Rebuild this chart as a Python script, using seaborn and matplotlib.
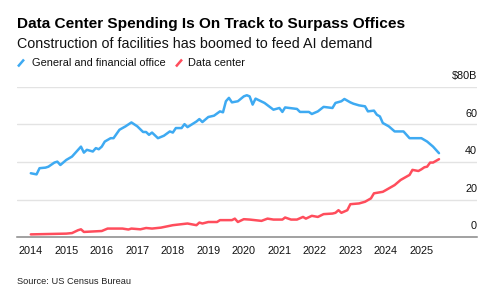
import numpy as np
import matplotlib
matplotlib.use('Agg')
import matplotlib.pyplot as plt
from matplotlib.lines import Line2D
import pandas as pd
import seaborn as sns

# monthly readings, $ billions (seasonally adjusted annual rate)
office_dates = ['2014-01', '2014-03', '2014-04', '2014-06', '2014-07', '2014-09', '2014-10', '2014-11',
                '2015-01', '2015-03', '2015-06', '2015-07', '2015-08', '2015-10', '2015-11', '2015-12',
                '2016-01', '2016-02', '2016-04', '2016-05', '2016-07', '2016-09', '2016-11',
                '2017-01', '2017-03', '2017-04', '2017-05', '2017-06', '2017-08', '2017-10', '2017-12',
                '2018-01', '2018-02', '2018-04', '2018-05', '2018-06', '2018-09', '2018-10', '2018-11',
                '2019-01', '2019-03', '2019-05', '2019-06', '2019-07', '2019-08', '2019-09', '2019-11',
                '2020-01', '2020-02', '2020-03', '2020-04', '2020-05', '2020-08', '2020-11',
                '2021-01', '2021-02', '2021-03', '2021-07', '2021-08', '2021-11', '2021-12',
                '2022-02', '2022-04', '2022-07', '2022-08', '2022-10', '2022-11',
                '2023-01', '2023-02', '2023-04', '2023-06', '2023-07', '2023-09', '2023-10', '2023-11', '2023-12',
                '2024-02', '2024-04', '2024-07', '2024-09',
                '2025-01', '2025-03', '2025-05', '2025-07']
office_vals = [34.0, 33.4, 36.7, 37.0, 37.5, 39.7, 40.2, 38.4,
               41.1, 42.9, 48.2, 45.0, 46.5, 45.6, 47.4, 46.8,
               48.2, 50.9, 52.7, 52.7, 57.2, 59.0, 61.1,
               59.0, 56.0, 56.0, 54.5, 55.7, 52.7, 54.0, 56.3,
               55.7, 58.1, 58.1, 60.2, 58.6, 61.6, 62.9, 61.3,
               64.0, 64.7, 67.0, 66.5, 72.4, 74.2, 71.8, 72.4,
               75.0, 75.6, 75.0, 70.6, 73.8, 71.5, 67.9,
               68.8, 66.7, 69.1, 68.3, 66.7, 66.7, 65.6,
               67.0, 69.4, 68.8, 71.5, 72.4, 73.6,
               71.8, 71.1, 70.2, 69.7, 67.0, 67.4, 65.2, 64.3, 60.8,
               59.0, 56.3, 56.3, 52.7,
               52.7, 50.9, 48.2, 44.7]

dc_dates = ['2014-01', '2015-01', '2015-03', '2015-05', '2015-06', '2015-07',
            '2016-01', '2016-03', '2016-08', '2016-10', '2016-11',
            '2017-02', '2017-04', '2017-06', '2017-09',
            '2018-01', '2018-06', '2018-09', '2018-10', '2018-11',
            '2019-01', '2019-04', '2019-05', '2019-09', '2019-10', '2019-11',
            '2020-01', '2020-03', '2020-07', '2020-09', '2020-11',
            '2021-02', '2021-03', '2021-05', '2021-07', '2021-09', '2021-10', '2021-12',
            '2022-02', '2022-04', '2022-07', '2022-08', '2022-09', '2022-10', '2022-12',
            '2023-01', '2023-04', '2023-06', '2023-08', '2023-09', '2023-12',
            '2024-01', '2024-04', '2024-06', '2024-08', '2024-09', '2024-10', '2024-12',
            '2025-01', '2025-02', '2025-03', '2025-04', '2025-05', '2025-07']
dc_vals = [1.4, 1.8, 2.1, 3.6, 4.1, 2.7,
           3.2, 4.5, 4.5, 4.0, 4.5,
           4.1, 4.8, 4.5, 5.0,
           6.3, 7.2, 6.3, 7.7, 7.2,
           8.0, 8.0, 9.0, 9.0, 9.8, 8.0,
           9.5, 9.3, 8.6, 9.8, 9.3,
           9.3, 10.4, 9.3, 9.3, 10.7, 9.8, 11.3,
           10.7, 12.2, 12.5, 12.9, 14.3, 12.9, 14.3,
           17.5, 17.9, 18.8, 20.6, 23.3, 24.1,
           25.0, 27.7, 30.4, 32.2, 33.1, 35.8, 35.2,
           36.1, 37.2, 37.5, 39.7, 39.7, 41.5]

series_names = ['General and financial office', 'Data center']
colors = ['#3eaaf2', '#ff4d5c']
y_ticks = [0, 20, 40, 60, 80]
y_labels = ['0', '20', '40', '60', '$80B']
years = list(range(2014, 2026))

df = pd.concat([
    pd.DataFrame({'date': pd.to_datetime(office_dates), 'value': office_vals, 'series': series_names[0]}),
    pd.DataFrame({'date': pd.to_datetime(dc_dates), 'value': dc_vals, 'series': series_names[1]}),
])

sns.set_style('white')
plt.rcParams['font.family'] = ['Liberation Sans', 'DejaVu Sans']

fig = plt.figure(figsize=(5.0, 2.95), dpi=100)
ax = fig.add_axes([0.034, 0.1966, 0.92, 0.5085])

sns.lineplot(data=df, x='date', y='value', hue='series', hue_order=series_names,
             palette=colors, linewidth=1.8, legend=False, ax=ax, zorder=3)

ax.set_ylim(0, 80)
ax.set_xlim(pd.Timestamp('2013-08-12'), pd.Timestamp('2026-07-27'))
for v in y_ticks[1:]:
    ax.axhline(v, color='#e3e3e3', lw=1.0, zorder=1)
ax.set_yticks([])
ax.set_xticks([pd.Timestamp(f'{y}-01-01') for y in years])
ax.set_xticklabels([str(y) for y in years], fontsize=7.8, color='#111111')
ax.tick_params(axis='x', direction='out', length=3.5, width=0.9, color='#888888', pad=3)
for s in ['top', 'right', 'left']:
    ax.spines[s].set_visible(False)
ax.spines['bottom'].set_color('#888888')
ax.spines['bottom'].set_linewidth(1.1)
ax.set_xlabel('')
ax.set_ylabel('')

tr = matplotlib.transforms.blended_transform_factory(ax.transAxes, ax.transData)
for v, lab in zip(y_ticks, y_labels):
    ax.text(1.0, v + 3.0, lab, transform=tr, ha='right', va='bottom', fontsize=7.8, color='#111111')

fig.text(0.034, 0.919, 'Data Center Spending Is On Track to Surpass Offices',
         fontsize=11.1, fontweight='bold', va='center', ha='left', color='#000000')
fig.text(0.034, 0.851, 'Construction of facilities has boomed to feed AI demand',
         fontsize=10.3, va='center', ha='left', color='#111111')

# legend with slash markers
ly = 1 - 63 / 295
for x0, col, x_text, name in [(18, colors[0], 32, series_names[0]), (176, colors[1], 188, series_names[1])]:
    fig.add_artist(Line2D([x0 / 500, (x0 + 6) / 500], [ly - 3.5 / 295, ly + 3.5 / 295],
                          color=col, lw=1.8, solid_capstyle='butt'))
    fig.text(x_text / 500, ly, name, fontsize=7.9, va='center', ha='left', color='#111111')

fig.text(0.034, 1 - 281 / 295, 'Source: US Census Bureau', fontsize=6.7, va='center', ha='left', color='#222222')

fig.savefig('out.png', dpi=100)
